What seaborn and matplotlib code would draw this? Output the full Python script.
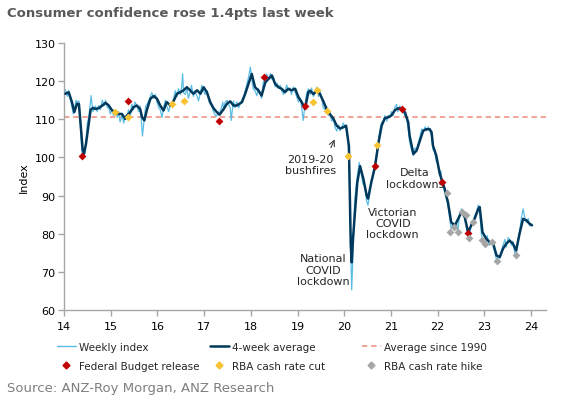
import numpy as np
import pandas as pd
import matplotlib
matplotlib.use("Agg")
import matplotlib.pyplot as plt
import seaborn as sns
from matplotlib.lines import Line2D

# 4-week average (decimal year, index)
avg_x = [14.03, 14.10, 14.17, 14.22, 14.28, 14.32, 14.36, 14.40, 14.43, 14.47, 14.52, 14.57, 14.62,
         14.67, 14.74, 14.82, 14.89, 14.96, 15.03, 15.10, 15.17, 15.24, 15.31, 15.35, 15.42, 15.49,
         15.56, 15.63, 15.67, 15.72, 15.78, 15.85, 15.92, 15.99, 16.06, 16.13, 16.20, 16.28, 16.35,
         16.42, 16.49, 16.56, 16.63, 16.70, 16.77, 16.85, 16.92, 16.99, 17.06, 17.13, 17.20, 17.27,
         17.33, 17.42, 17.49, 17.56, 17.63, 17.70, 17.81, 17.88, 17.95, 18.02, 18.09, 18.16, 18.23,
         18.31, 18.38, 18.45, 18.52, 18.59, 18.66, 18.73, 18.80, 18.87, 18.95, 19.02, 19.09, 19.16,
         19.23, 19.27, 19.34, 19.41, 19.48, 19.55, 19.62, 19.69, 19.77, 19.84, 19.91, 19.98, 20.04,
         20.10, 20.12, 20.14, 20.16, 20.19, 20.23, 20.28, 20.34, 20.41, 20.48, 20.51, 20.58, 20.66,
         20.73, 20.80, 20.87, 20.94, 21.01, 21.08, 21.15, 21.23, 21.30, 21.37, 21.40, 21.48, 21.55,
         21.62, 21.69, 21.76, 21.83, 21.87, 21.90, 21.97, 22.04, 22.10, 22.15, 22.22, 22.29, 22.37,
         22.44, 22.51, 22.58, 22.65, 22.72, 22.79, 22.87, 22.90, 22.96, 23.04, 23.11, 23.19, 23.26,
         23.33, 23.40, 23.47, 23.54, 23.61, 23.68, 23.76, 23.83, 23.90, 23.97, 24.02]
avg_y = [116.7, 117.1, 114.5, 111.9, 114.1, 114.0, 108.0, 102.0, 101.0, 103.5, 108.0, 112.5, 113.0,
         112.7, 112.9, 113.6, 114.3, 113.6, 112.3, 111.9, 111.4, 111.4, 110.1, 111.0, 111.9, 113.2,
         113.6, 112.7, 110.6, 109.7, 112.7, 115.4, 116.1, 115.4, 113.6, 112.3, 114.5, 113.6, 114.9,
         116.7, 117.1, 117.6, 118.4, 117.6, 116.7, 117.6, 116.7, 118.4, 117.1, 114.5, 112.9, 111.9,
         111.2, 112.7, 114.1, 114.7, 113.6, 113.6, 114.5, 116.7, 119.3, 121.9, 118.4, 117.6, 116.2,
         119.7, 120.6, 121.5, 119.3, 118.4, 118.0, 117.1, 118.0, 117.6, 118.0, 115.8, 114.5, 112.7,
         117.1, 117.5, 116.6, 117.5, 116.6, 114.8, 112.7, 111.4, 110.1, 108.3, 107.6, 107.9, 108.3,
         103.0, 90.0, 77.0, 72.5, 79.0, 85.7, 93.5, 97.7, 94.4, 90.0, 89.2, 93.5, 97.7,
         103.6, 108.3, 110.3, 110.5, 111.0, 112.3, 112.9, 112.7, 111.8, 109.2, 105.7, 100.9, 101.8,
         104.4, 107.0, 107.4, 107.4, 106.6, 103.1, 100.5, 96.1, 93.5, 91.8, 88.3, 83.0, 82.2,
         83.9, 85.7, 84.4, 80.4, 82.2, 83.9, 86.5, 87.0, 80.4, 78.7, 77.8, 77.4, 74.3,
         73.9, 76.1, 77.4, 78.2, 77.4, 75.6, 80.4, 83.9, 83.5, 82.6, 82.2]

# weekly index
wk_x = [14.00, 14.03, 14.07, 14.10, 14.14, 14.17, 14.20, 14.22, 14.26, 14.28, 14.32, 14.35, 14.37,
        14.39, 14.41, 14.44, 14.47, 14.50, 14.53, 14.56, 14.58, 14.62, 14.67, 14.71, 14.74, 14.78,
        14.82, 14.86, 14.89, 14.93, 14.96, 14.99, 15.03, 15.06, 15.10, 15.14, 15.17, 15.20, 15.24,
        15.28, 15.31, 15.35, 15.38, 15.42, 15.45, 15.49, 15.52, 15.56, 15.60, 15.63, 15.66, 15.68,
        15.70, 15.72, 15.75, 15.78, 15.82, 15.85, 15.88, 15.92, 15.96, 15.99, 16.03, 16.06, 16.10,
        16.13, 16.17, 16.20, 16.24, 16.28, 16.31, 16.35, 16.38, 16.42, 16.45, 16.49, 16.52, 16.54,
        16.56, 16.60, 16.63, 16.66, 16.70, 16.73, 16.77, 16.80, 16.85, 16.88, 16.92, 16.95, 16.99,
        17.02, 17.06, 17.10, 17.13, 17.17, 17.20, 17.24, 17.27, 17.30, 17.33, 17.37, 17.40, 17.42,
        17.45, 17.49, 17.52, 17.56, 17.58, 17.60, 17.63, 17.66, 17.70, 17.74, 17.77, 17.81, 17.85,
        17.88, 17.92, 17.95, 17.99, 18.02, 18.05, 18.09, 18.13, 18.16, 18.20, 18.23, 18.27, 18.31,
        18.34, 18.38, 18.42, 18.45, 18.49, 18.52, 18.56, 18.59, 18.63, 18.66, 18.70, 18.73, 18.77,
        18.80, 18.84, 18.87, 18.91, 18.95, 18.98, 19.02, 19.06, 19.09, 19.12, 19.16, 19.19, 19.23,
        19.27, 19.30, 19.34, 19.38, 19.41, 19.45, 19.48, 19.52, 19.55, 19.59, 19.62, 19.66, 19.69,
        19.73, 19.77, 19.80, 19.84, 19.88, 19.91, 19.95, 19.98, 20.02, 20.05, 20.08, 20.10, 20.12,
        20.14, 20.16, 20.18, 20.20, 20.22, 20.25, 20.28, 20.32, 20.36, 20.40, 20.44, 20.48, 20.51,
        20.55, 20.58, 20.62, 20.66, 20.70, 20.73, 20.77, 20.80, 20.84, 20.87, 20.91, 20.94, 20.98,
        21.01, 21.05, 21.08, 21.12, 21.15, 21.19, 21.23, 21.26, 21.30, 21.33, 21.37, 21.40, 21.44,
        21.48, 21.51, 21.55, 21.59, 21.62, 21.66, 21.69, 21.73, 21.76, 21.80, 21.83, 21.87, 21.90,
        21.94, 21.97, 22.01, 22.04, 22.07, 22.10, 22.13, 22.15, 22.19, 22.22, 22.26, 22.29, 22.32,
        22.36, 22.40, 22.43, 22.47, 22.51, 22.55, 22.58, 22.62, 22.65, 22.68, 22.72, 22.76, 22.79,
        22.83, 22.87, 22.90, 22.94, 22.98, 23.02, 23.06, 23.11, 23.16, 23.19, 23.23, 23.26, 23.30,
        23.33, 23.37, 23.40, 23.44, 23.47, 23.51, 23.54, 23.58, 23.61, 23.65, 23.68, 23.72, 23.76,
        23.79, 23.83, 23.87, 23.90, 23.94, 23.97, 24.02]
wk_y = [117.5, 117.8, 116.0, 117.5, 115.0, 113.0, 111.4, 112.5, 115.0, 114.5, 114.8, 109.0, 104.0,
        100.5, 100.0, 101.5, 104.0, 109.0, 110.5, 114.0, 116.2, 112.0, 113.5, 112.0, 113.6, 112.5,
        115.0, 113.5, 115.0, 113.0, 113.0, 111.4, 112.5, 111.0, 112.5, 110.5, 112.0, 109.3, 111.0,
        109.0, 111.0, 110.5, 112.5, 111.0, 114.0, 112.5, 114.5, 113.6, 112.0, 113.5, 109.0, 105.6,
        108.0, 110.5, 113.5, 114.0, 115.0, 116.0, 117.0, 115.5, 116.5, 114.5, 113.0, 112.5, 110.5,
        113.0, 115.0, 113.5, 112.0, 114.0, 113.5, 115.5, 117.5, 116.0, 118.0, 116.5, 118.5, 121.9,
        117.0, 116.5, 118.5, 115.5, 117.0, 118.9, 116.0, 117.5, 116.0, 114.8, 117.0, 118.9, 117.5,
        116.5, 117.5, 115.0, 114.0, 113.5, 112.0, 111.0, 110.8, 112.0, 111.5, 113.0, 114.5, 112.5,
        114.5, 115.0, 114.0, 113.0, 109.7, 112.0, 114.8, 113.0, 114.5, 113.0, 114.0, 115.0, 116.0,
        117.5, 119.5, 121.0, 123.7, 120.5, 118.0, 117.5, 116.2, 118.0, 117.0, 115.5, 120.0, 119.0,
        121.9, 120.5, 122.0, 120.5, 121.0, 118.5, 119.5, 118.5, 118.9, 117.5, 116.5, 117.5, 119.0,
        117.5, 118.2, 116.5, 118.5, 117.0, 116.0, 114.5, 115.5, 113.0, 109.7, 113.5, 116.5, 118.0,
        116.5, 118.2, 116.0, 117.0, 118.4, 116.0, 117.5, 115.5, 113.0, 112.5, 113.5, 111.0, 112.0,
        109.5, 110.5, 108.0, 106.9, 108.5, 107.0, 108.0, 109.0, 108.0, 107.5, 105.0, 100.5, 88.0,
        75.0, 65.3, 72.0, 80.0, 88.0, 92.0, 95.0, 98.7, 96.0, 93.0, 92.5, 88.5, 87.5,
        91.0, 94.0, 95.0, 98.5, 101.0, 104.5, 107.5, 109.2, 109.5, 111.0, 109.5, 111.0, 110.5,
        112.0, 111.0, 113.0, 113.9, 112.0, 113.5, 112.5, 112.0, 111.0, 110.5, 107.5, 104.0, 102.0,
        100.5, 102.5, 102.0, 104.0, 105.5, 107.5, 106.5, 108.0, 107.0, 108.0, 107.0, 105.5, 102.0,
        101.5, 99.0, 98.0, 95.2, 96.5, 92.5, 93.0, 90.6, 89.0, 87.5, 84.0, 81.3, 82.5,
        81.7, 83.0, 80.4, 85.0, 86.5, 85.8, 84.0, 82.0, 79.5, 79.0, 82.5, 83.1, 84.5,
        85.5, 87.5, 86.0, 79.5, 78.3, 77.2, 79.5, 77.0, 77.8, 76.5, 75.0, 73.1, 74.0,
        73.5, 75.5, 77.0, 78.5, 76.5, 79.0, 78.5, 77.0, 78.0, 75.0, 74.5, 77.5, 81.0,
        84.0, 86.5, 84.0, 83.0, 84.0, 82.0, 82.5]

long_run_avg = 110.5

budget_x = [14.39, 15.37, 17.32, 18.28, 19.17, 20.66, 21.23, 22.09, 22.66]
budget_y = [100.5, 114.8, 109.5, 121.0, 113.4, 97.7, 112.6, 93.5, 80.1]
cut_x = [15.09, 15.37, 16.31, 16.58, 19.34, 19.41, 19.64, 20.09, 20.71]
cut_y = [111.9, 110.7, 114.1, 114.9, 114.6, 117.6, 112.3, 100.5, 103.3]
hike_x = [22.19, 22.27, 22.36, 22.43, 22.52, 22.60, 22.68, 22.76, 22.94, 23.02, 23.16, 23.27, 23.68]
hike_y = [90.6, 80.4, 81.7, 80.4, 85.8, 84.8, 78.9, 83.1, 78.3, 77.2, 77.8, 72.8, 74.5]

year_ticks = list(range(14, 25))

C_WEEKLY = "#5BBDE6"
C_AVG = "#00395C"
C_LRA = "#F08A7A"
C_BUDGET = "#C00000"
C_CUT = "#F7C331"
C_HIKE = "#A6A6A6"
C_AXIS = "#A6A6A6"

sns.set_style("white")
plt.rcParams["font.family"] = ["DejaVu Sans"]

fig = plt.figure(figsize=(5.61, 4.02), dpi=100)
ax = fig.add_axes([64 / 561, 1 - 311 / 402, (546 - 64) / 561, (311 - 44) / 402])

weekly = pd.DataFrame({"x": wk_x, "y": wk_y})
fourwk = pd.DataFrame({"x": avg_x, "y": avg_y})

ax.axhline(long_run_avg, color=C_LRA, lw=1.1, ls=(0, (3.5, 2.5)), zorder=1)
sns.lineplot(data=weekly, x="x", y="y", ax=ax, color=C_WEEKLY, lw=0.9, zorder=2)
sns.lineplot(data=fourwk, x="x", y="y", ax=ax, color=C_AVG, lw=1.8, zorder=3)
sns.scatterplot(x=budget_x, y=budget_y, ax=ax, marker="D", s=16, color=C_BUDGET, linewidth=0, zorder=4)
sns.scatterplot(x=cut_x, y=cut_y, ax=ax, marker="D", s=16, color=C_CUT, linewidth=0, zorder=4)
sns.scatterplot(x=hike_x, y=hike_y, ax=ax, marker="D", s=16, color=C_HIKE, linewidth=0, zorder=4)

ax.set_xlim(14, 24.32)
ax.set_ylim(60, 130)
ax.set_xticks(year_ticks)
ax.set_xticklabels([str(t) for t in year_ticks])
ax.set_yticks(range(60, 131, 10))
ax.set_xlabel("")
ax.set_ylabel("Index", fontsize=8, color="#000000", labelpad=4)
for side in ["top", "right"]:
    ax.spines[side].set_visible(False)
for side in ["left", "bottom"]:
    ax.spines[side].set_color(C_AXIS)
    ax.spines[side].set_linewidth(1.0)
ax.tick_params(axis="both", which="major", direction="out", length=4, width=1,
               color=C_AXIS, labelsize=8, labelcolor="#000000", pad=2,
               bottom=True, left=True)
ax.tick_params(axis="x", pad=4)

# annotations
ax.annotate("", xy=(19.82, 105.4), xytext=(19.69, 101.9),
            arrowprops=dict(arrowstyle="->", color="#404040", lw=0.8))
ax.text(19.27, 98.1, "2019-20\nbushfires", ha="center", va="center", fontsize=8, linespacing=1.15)
ax.text(19.55, 70.6, "National\nCOVID\nlockdown", ha="center", va="center", fontsize=8, linespacing=1.15)
ax.text(21.04, 82.8, "Victorian\nCOVID\nlockdown", ha="center", va="center", fontsize=8, linespacing=1.15)
ax.text(21.51, 94.6, "Delta\nlockdowns", ha="center", va="center", fontsize=8, linespacing=1.15)

fig.text(7 / 561, 1 - 14 / 402, "Consumer confidence rose 1.4pts last week", fontsize=9.5,
         fontweight="bold", color="#595959", ha="left", va="center")
fig.text(7 / 561, 1 - 389 / 402, "Source: ANZ-Roy Morgan, ANZ Research", fontsize=9.5,
         color="#7F7F7F", ha="left", va="center")

# legend: three columns at fixed positions like the original
legend_cols = [
    (57, [Line2D([], [], color=C_WEEKLY, lw=1.0),
          Line2D([], [], color=C_BUDGET, marker="D", ms=3.5, lw=0)],
     ["Weekly index", "Federal Budget release"]),
    (210, [Line2D([], [], color=C_AVG, lw=1.8),
           Line2D([], [], color=C_CUT, marker="D", ms=3.5, lw=0)],
     ["4-week average", "RBA cash rate cut"]),
    (362, [Line2D([], [], color=C_LRA, lw=1.1, ls=(0, (3.5, 2.5))),
           Line2D([], [], color=C_HIKE, marker="D", ms=3.5, lw=0)],
     ["Average since 1990", "RBA cash rate hike"]),
]
for x0, hs, ls in legend_cols:
    fig.legend(hs, ls, loc="upper left", bbox_to_anchor=(x0 / 561, 1 - 343 / 402),
               frameon=False, fontsize=7.5, handlelength=1.8, handletextpad=0.3,
               labelspacing=0.85, borderaxespad=0, borderpad=0)

fig.savefig("out.png", dpi=100)
